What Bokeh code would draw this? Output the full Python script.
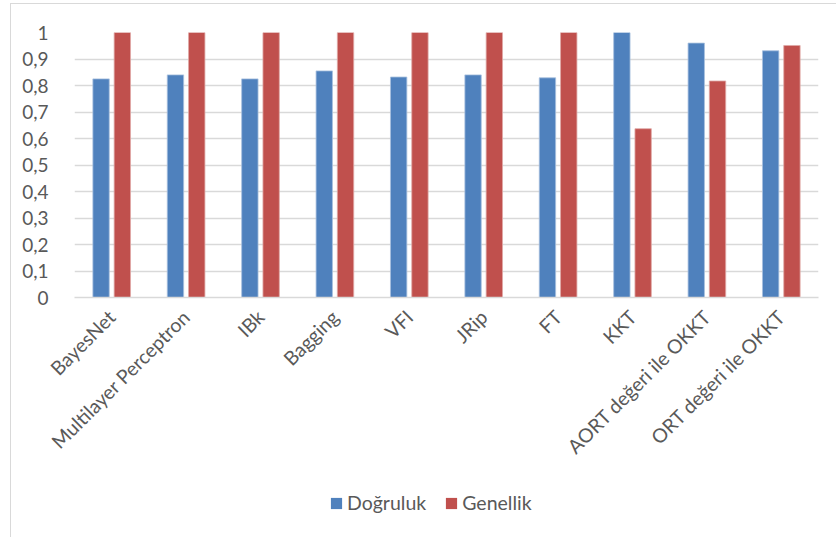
from bokeh.plotting import figure
from bokeh.models import ColumnDataSource, FixedTicker, Legend, LegendItem, InlineStyleSheet
from bokeh.layouts import column
from bokeh.transform import dodge
from bokeh.embed import file_html
from bokeh.resources import INLINE
import math

categories = ["BayesNet", "Multilayer Perceptron", "IBk", "Bagging", "VFI", "JRip", "FT", "KKT",
              "AORT değeri ile OKKT", "ORT değeri ile OKKT"]
dogruluk = [0.825, 0.840, 0.825, 0.855, 0.832, 0.840, 0.829, 1.0, 0.960, 0.931]
genellik = [1.0, 1.0, 1.0, 1.0, 1.0, 1.0, 1.0, 0.637, 0.817, 0.951]
y_ticks = [0, 0.1, 0.2, 0.3, 0.4, 0.5, 0.6, 0.7, 0.8, 0.9, 1.0]
y_tick_labels = ["0", "0,1", "0,2", "0,3", "0,4", "0,5", "0,6", "0,7", "0,8", "0,9", "1"]
series_names = ["Doğruluk", "Genellik"]
colors = ["#4F81BD", "#C0504D"]

FONT = "Lato"
TXT = "#595959"
GRID = "#D9D9D9"

src = ColumnDataSource(dict(cat=categories, d=dogruluk, g=genellik))

p = figure(x_range=categories, y_range=(0, 1.0), width=836, height=470,
           output_backend="svg", toolbar_location=None,
           min_border_left=74, min_border_right=18, min_border_top=32, min_border_bottom=173)
p.outline_line_color = None
p.background_fill_color = None
p.border_fill_color = None

r1 = p.vbar(x=dodge("cat", -0.143, range=p.x_range), top="d", width=0.22, source=src,
            fill_color=colors[0], line_color="#A7C0DE", line_width=0.8)
r2 = p.vbar(x=dodge("cat", 0.143, range=p.x_range), top="g", width=0.22, source=src,
            fill_color=colors[1], line_color="#DFA8A6", line_width=0.8)

p.yaxis.ticker = FixedTicker(ticks=y_ticks)
p.yaxis.major_label_overrides = {t: l for t, l in zip(y_ticks, y_tick_labels)}
p.yaxis.axis_line_color = None
p.yaxis.major_tick_line_color = None
p.yaxis.minor_tick_line_color = None
p.yaxis.major_label_text_font = FONT
p.yaxis.major_label_text_font_size = "19px"
p.yaxis.major_label_text_color = TXT
p.yaxis.major_label_standoff = 20

p.xaxis.axis_line_color = GRID
p.xaxis.axis_line_width = 1.5
p.xaxis.major_tick_line_color = None
p.xaxis.minor_tick_line_color = None
p.xaxis.major_label_orientation = math.pi / 4
p.xaxis.major_label_text_font = FONT
p.xaxis.major_label_text_font_size = "19.5px"
p.xaxis.major_label_text_color = TXT
p.xaxis.major_label_standoff = 10

p.xgrid.grid_line_color = None
p.ygrid.grid_line_color = GRID
p.ygrid.grid_line_width = 1.3

# legend strip below the chart (legend keys use off-range placeholder glyphs)
lf = figure(width=836, height=67, output_backend="svg", toolbar_location=None,
            x_range=(0, 1), y_range=(0, 1),
            min_border_left=0, min_border_right=0, min_border_top=0, min_border_bottom=0)
lf.axis.visible = False
lf.grid.visible = False
lf.outline_line_color = None
lf.background_fill_color = None
lf.border_fill_color = None
key_src = ColumnDataSource(dict(x=[-5.0], top=[0.0]))
lr1 = lf.vbar(x="x", top="top", width=0.1, source=key_src, fill_color=colors[0], line_color=None)
lr2 = lf.vbar(x="x", top="top", width=0.1, source=key_src, fill_color=colors[1], line_color=None)

legend = Legend(items=[LegendItem(label=series_names[0], renderers=[lr1]),
                       LegendItem(label=series_names[1], renderers=[lr2])],
                orientation="horizontal", location=(255, 23),
                glyph_width=14, glyph_height=14, label_text_font=FONT,
                label_text_font_size="19.5px", label_text_color=TXT,
                border_line_color=None, background_fill_alpha=0,
                spacing=18, label_standoff=4, padding=0, margin=0)
lf.add_layout(legend, "center")

layout = column(p, lf, spacing=0)
layout.stylesheets = [InlineStyleSheet(css="""
:host { background: white; }
:host::after {
  content: '';
  position: absolute;
  left: 10px; top: 3px; right: 0px; bottom: 0px;
  border-left: 1px solid #D9D9D9;
  border-top: 1px solid #D9D9D9;
  pointer-events: none;
}
""")]

open("out.html", "w").write(file_html(layout, INLINE))
